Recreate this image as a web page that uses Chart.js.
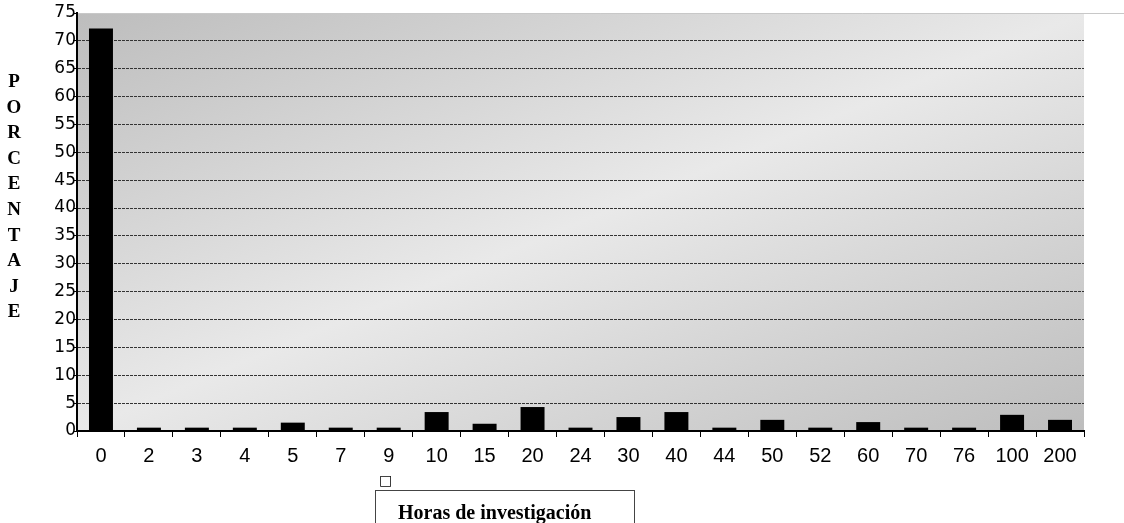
<!DOCTYPE html>
<html>
<head>
<meta charset="utf-8">
<script src="https://cdn.jsdelivr.net/npm/chart.js@4"></script>
<style>
  html,body{margin:0;padding:0;background:#fff;}
  #wrap{position:relative;width:1124px;height:523px;overflow:hidden;}
  #yTitle{position:absolute;left:3px;top:68px;width:22px;text-align:center;
    font:bold 19px "Liberation Serif",serif;line-height:25.6px;color:#000;}
  #keySq{position:absolute;left:379px;top:472px;font:14px "DejaVu Sans",sans-serif;color:#000;}
  #legendBox{position:absolute;left:375px;top:490px;width:260px;height:40px;border:1px solid #444;box-sizing:border-box;}
  #legendBox span{position:absolute;left:22px;top:10px;font:bold 20px "Liberation Serif",serif;color:#000;white-space:nowrap;}
</style>
</head>
<body>
<div id="wrap">
  <canvas id="chart" width="1124" height="523"></canvas>
  <div id="yTitle">P<br>O<br>R<br>C<br>E<br>N<br>T<br>A<br>J<br>E</div>
  <div id="keySq">□</div>
  <div id="legendBox"><span>Horas de investigación</span></div>
</div>
<script>
/* ---------------- data ---------------- */
const hours   = ['0','2','3','4','5','7','9','10','15','20','24','30','40','44','50','52','60','70','76','100','200'];
const percent = [72.2,0.6,0.6,0.6,1.5,0.6,0.6,3.4,1.3,4.3,0.6,2.5,3.4,0.6,2.0,0.6,1.6,0.6,0.6,2.9,2.0];
const yMax = 75, yStep = 5;

/* ---------------- plot background ---------------- */
const plotBg = {
  id:'plotBg',
  beforeDraw(chart){
    const {ctx, chartArea:a} = chart;
    const w=a.right-a.left, h=a.bottom-a.top;
    const cx=(a.left+a.right)/2, cy=(a.top+a.bottom)/2;
    const n=Math.sqrt(w*w+h*h), dx=h/n, dy=w/n, L=w*h/n;
    const g=ctx.createLinearGradient(cx-dx*L, cy-dy*L, cx+dx*L, cy+dy*L);
    g.addColorStop(0,'#bdbdbd');
    g.addColorStop(0.5,'#e9e9e9');
    g.addColorStop(1,'#bdbdbd');
    ctx.save();
    ctx.fillStyle=g;
    ctx.fillRect(a.left,a.top,w,h);
    // light top border running to the page edge
    ctx.strokeStyle='#c8c8c8'; ctx.lineWidth=1;
    ctx.beginPath(); ctx.moveTo(a.left,a.top+0.5); ctx.lineTo(chart.width,a.top+0.5); ctx.stroke();
    ctx.restore();
  }
};

new Chart(document.getElementById('chart'),{
  type:'bar',
  data:{labels:hours,datasets:[{
    data:percent, backgroundColor:'#000', borderWidth:0,
    categoryPercentage:1, barPercentage:0.5
  }]},
  plugins:[plotBg],
  options:{
    responsive:false, animation:false,
    layout:{padding:{left:17,top:13,right:40,bottom:0}},
    plugins:{legend:{display:false},tooltip:{enabled:false}},
    scales:{
      x:{
        grid:{drawOnChartArea:false, drawTicks:true, tickLength:6, color:'#000', offset:true},
        border:{color:'#000', width:2},
        ticks:{color:'#000', font:{family:'Liberation Sans', size:20}, padding:7, maxRotation:0, autoSkip:false},
        afterFit(s){ s.height=92; }
      },
      y:{
        min:0, max:yMax,
        grid:{color:c=>c.tick && c.tick.value===yMax ? 'rgba(0,0,0,0)' : '#333', lineWidth:1, tickLength:4, tickColor:'#000'},
        border:{color:'#000', width:2, dash:[3,1]},
        ticks:{stepSize:yStep, color:'#000', font:{family:'DejaVu Sans', size:17}, padding:-3},
        afterFit(s){ s.width=60; }
      }
    }
  }
});
</script>
</body>
</html>
